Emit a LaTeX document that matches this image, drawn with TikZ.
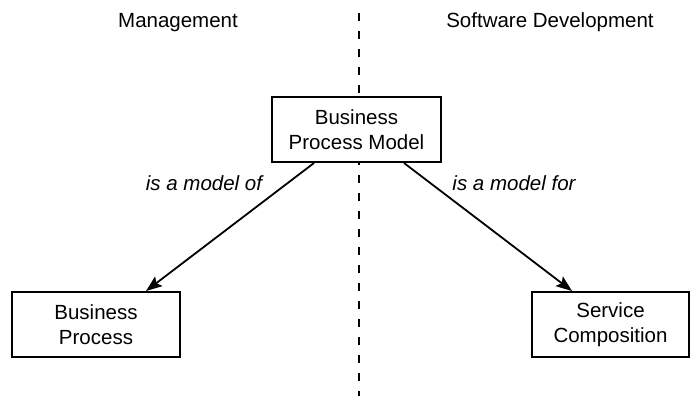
\documentclass[tikz,border=0pt]{standalone}
\usepackage{fontspec}
\setmainfont{Liberation Sans}
\usetikzlibrary{arrows.meta,calc}
\begin{document}
\begin{tikzpicture}[x=1pt,y=-1pt,
  every node/.style={font=\fontsize{20.5}{25}\selectfont},
  box/.style={draw, line width=2pt, fill=white, align=center, inner sep=0pt},
  relation/.style={line width=1.8pt, -{Stealth[length=16pt,width=12pt,inset=3pt]}},
  relabel/.style={font=\fontsize{20.5}{25}\selectfont\itshape, anchor=base},
  header/.style={anchor=base},
  divider/.style={line width=2pt, dash pattern=on 8pt off 10pt}]
  \useasboundingbox (0,0) rectangle (693,396);

  % column headings
  \node[header] (mgmt) at (178,28) {Management};
  \node[header] (swdev) at (550,28) {Software Development};

  % dividing line between the two domains
  \coordinate (divtop) at (359,13);
  \coordinate (divbot) at (359,396);
  \draw[divider] (divtop) -- (divbot);

  % the three models
  \node[box, minimum width=169pt, minimum height=65pt] (bpm) at (356.5,129.5)
    {Business\\Process Model};
  \node[box, minimum width=168pt, minimum height=65pt] (bp) at (96,324.5)
    {Business\\Process};
  \node[box, minimum width=157pt, minimum height=65pt] (sc) at (610.5,324.5)
    {Service\\Composition};

  % end points of the relations on the box edges
  \coordinate (s1) at ($(bpm.south west)+(43,0)$);
  \coordinate (t1) at ($(bp.north east)+(-35,0)$);
  \coordinate (s2) at ($(bpm.south east)+(-38,0)$);
  \coordinate (t2) at ($(sc.north west)+(41,0)$);

  % relations
  \draw[relation] (s1) -- (t1);
  \draw[relation] (s2) -- (t2);

  \node[relabel] (l1) at (204,190) {is a model of};
  \node[relabel] (l2) at (514,190) {is a model for};
\end{tikzpicture}
\end{document}
